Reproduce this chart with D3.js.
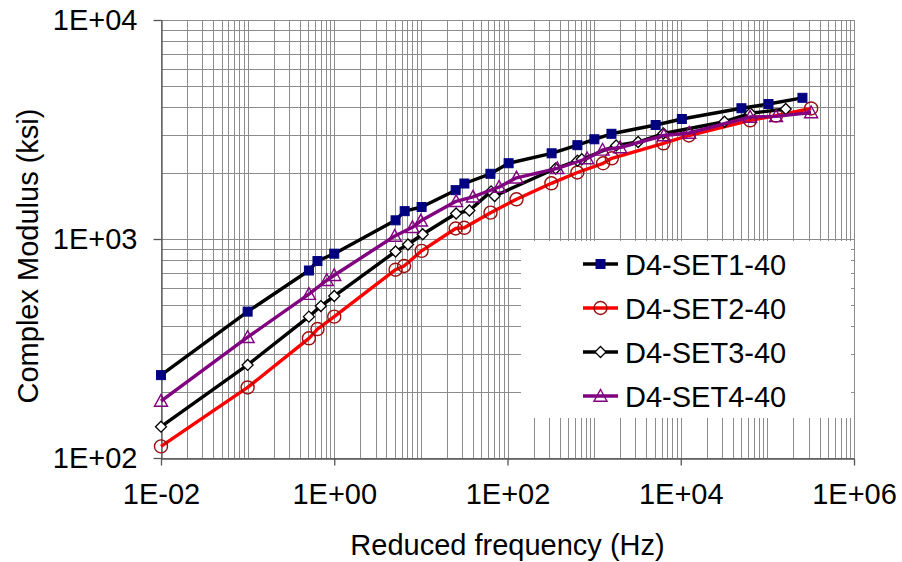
<!DOCTYPE html>
<html>
<head>
<meta charset="utf-8">
<script src="https://cdn.jsdelivr.net/npm/d3@7"></script>
<style>
  body { margin: 0; background: #fff; }
  text { font-family: "Liberation Sans", Arial, sans-serif; fill: #000; }
</style>
</head>
<body>
<div id="chart"></div>
<script>
// data (frequency Hz, modulus ksi)
const seriesNames = ["D4-SET1-40", "D4-SET2-40", "D4-SET3-40", "D4-SET4-40"];

const freq1 = [0.01, 0.1, 0.51, 0.64, 1.0, 5.1, 6.5, 10.2, 25.2, 31.8, 63.5, 103, 323, 641, 1007, 1585, 5130, 10300, 50200, 103000, 254000];
const mod1  = [239, 466, 718, 793, 857, 1217, 1340, 1400, 1671, 1792, 1985, 2218, 2462, 2681, 2853, 3023, 3315, 3531, 3954, 4134, 4413];

const freq2 = [0.01, 0.1, 0.51, 0.64, 1.0, 5.1, 6.4, 10.2, 25.2, 31.7, 63.7, 127, 321, 640, 1270, 1600, 6310, 12400, 63200, 126000, 320000];
const mod2  = [113, 210, 352, 388, 442, 724, 753, 883, 1117, 1125, 1319, 1518, 1796, 2012, 2217, 2336, 2735, 2969, 3483, 3660, 3945];

const freq3 = [0.01, 0.1, 0.51, 0.70, 1.0, 5.1, 7.1, 10.5, 25.5, 36.3, 64.7, 71, 359, 643, 721, 1795, 3220, 6310, 32000, 63500, 163000];
const mod3  = [139, 266, 442, 494, 549, 877, 944, 1051, 1307, 1349, 1650, 1572, 2098, 2278, 2312, 2673, 2773, 3032, 3432, 3750, 3924];

const freq4 = [0.01, 0.1, 0.51, 0.82, 1.0, 5.0, 8.0, 10, 25.5, 40, 80, 127, 376, 830, 1253, 1995, 6380, 12500, 63200, 126000, 320000];
const mod4  = [182, 356, 560, 648, 683, 1032, 1131, 1211, 1486, 1558, 1728, 1903, 2102, 2331, 2550, 2617, 2969, 3048, 3606, 3630, 3782];

const xTicks = [1e-2, 1e0, 1e2, 1e4, 1e6];
const yTicks = [1e2, 1e3, 1e4];

// setup
const width = 902, height = 562;
const margin = { top: 20, right: 48, bottom: 104, left: 161 };
const svg = d3.select("#chart").append("svg")
    .attr("width", width).attr("height", height);

const x = d3.scaleLog().domain([1e-2, 1e6]).range([margin.left, width - margin.right]);
const y = d3.scaleLog().domain([1e2, 1e4]).range([height - margin.bottom, margin.top]);

const sciFmt = d => {
    const e = Math.round(Math.log10(d));
    return "1E" + (e < 0 ? "-" : "+") + String(Math.abs(e)).padStart(2, "0");
};

// grid: every decade plus 2..9 minors
const gridVals = (lo, hi) => {
    const out = [];
    for (let e = lo; e < hi; e++) for (let m = 1; m < 10; m++) out.push(m * Math.pow(10, e));
    out.push(Math.pow(10, hi));
    return out;
};
const grid = svg.append("g").attr("stroke", "#8c8c8c").attr("stroke-width", 1);
gridVals(-2, 6).forEach(v => {
    const px = Math.round(x(v)) + 0.5;
    grid.append("line").attr("x1", px).attr("x2", px).attr("y1", y(1e4)).attr("y2", y(1e2));
});
gridVals(2, 4).forEach(v => {
    const py = Math.round(y(v)) + 0.5;
    grid.append("line").attr("x1", x(1e-2)).attr("x2", x(1e6)).attr("y1", py).attr("y2", py);
});

// legend box hides the grid under it
const lg = { x: 521, y: 241, w: 330, h: 177 };
svg.append("rect").attr("x", lg.x).attr("y", lg.y).attr("width", lg.w).attr("height", lg.h).attr("fill", "#fff");

// axes
const xAxis = svg.append("g")
    .attr("transform", `translate(0,${Math.round(y(1e2)) + 0.5})`)
    .call(d3.axisBottom(x).tickValues(xTicks).tickFormat(sciFmt).tickSizeInner(7).tickSizeOuter(0).tickPadding(18));
const yAxis = svg.append("g")
    .attr("transform", `translate(${Math.round(x(1e-2)) + 0.5},0)`)
    .call(d3.axisLeft(y).tickValues(yTicks).tickFormat(sciFmt).tickSizeInner(8).tickSizeOuter(0).tickPadding(16));
[xAxis, yAxis].forEach(a => {
    a.select(".domain").attr("stroke", "#555").attr("stroke-width", 1.3);
    a.selectAll(".tick line").attr("stroke", "#555").attr("stroke-width", 1.3);
    a.selectAll(".tick text").attr("font-size", 29).attr("font-family", "Liberation Sans, Arial, sans-serif").attr("fill", "#000");
});

svg.append("text")
    .attr("x", (x(1e-2) + x(1e6)) / 2 + 0).attr("y", 555)
    .attr("text-anchor", "middle").attr("font-size", 29)
    .text("Reduced frequency (Hz)");
svg.append("text")
    .attr("transform", `translate(38,${(y(1e2) + y(1e4)) / 2 + 17}) rotate(-90)`)
    .attr("text-anchor", "middle").attr("font-size", 29)
    .text("Complex Modulus (ksi)");

// markers
const drawMarker = (g, kind, cx, cy) => {
    if (kind === "square") {
        g.append("rect").attr("x", cx - 4.5).attr("y", cy - 4.5).attr("width", 9).attr("height", 9)
            .attr("fill", "#000080").attr("stroke", "#000080");
    } else if (kind === "circle") {
        g.append("circle").attr("cx", cx).attr("cy", cy).attr("r", 6.5)
            .attr("fill", "none").attr("stroke", "#9a1010").attr("stroke-width", 1.4);
    } else if (kind === "diamond") {
        const s = 5.5;
        g.append("path").attr("d", `M${cx},${cy - s}L${cx + s},${cy}L${cx},${cy + s}L${cx - s},${cy}Z`)
            .attr("fill", "#fff").attr("stroke", "#000").attr("stroke-width", 1.3);
    } else {
        const s = 6.5;
        g.append("path").attr("d", `M${cx},${cy - s}L${cx + s},${cy + s * 0.8}L${cx - s},${cy + s * 0.8}Z`)
            .attr("fill", "none").attr("stroke", "#800080").attr("stroke-width", 1.4);
    }
};

const series = [
    { name: seriesNames[0], f: freq1, m: mod1, line: "#000000", marker: "square" },
    { name: seriesNames[1], f: freq2, m: mod2, line: "#ff0000", marker: "circle" },
    { name: seriesNames[2], f: freq3, m: mod3, line: "#000000", marker: "diamond" },
    { name: seriesNames[3], f: freq4, m: mod4, line: "#800080", marker: "triangle" }
];

const lineGen = d3.line().x(d => x(d[0])).y(d => y(d[1]));

series.forEach(s => {
    const pts = s.f.map((f, i) => [f, s.m[i]]);
    const g = svg.append("g");
    g.append("path").datum(pts)
        .attr("fill", "none").attr("stroke", s.line).attr("stroke-width", 3.4)
        .attr("stroke-linejoin", "round").attr("d", lineGen);
    pts.forEach(p => drawMarker(g, s.marker, x(p[0]), y(p[1])));
});

// legend
series.forEach((s, i) => {
    const cy = 264 + i * 44;
    const g = svg.append("g");
    g.append("line").attr("x1", 583).attr("x2", 618).attr("y1", cy).attr("y2", cy)
        .attr("stroke", s.line).attr("stroke-width", 3.4);
    drawMarker(g, s.marker, 600.5, cy);
    g.append("text").attr("x", 625).attr("y", cy + 10.5).attr("font-size", 29).text(s.name);
});
</script>
</body>
</html>
